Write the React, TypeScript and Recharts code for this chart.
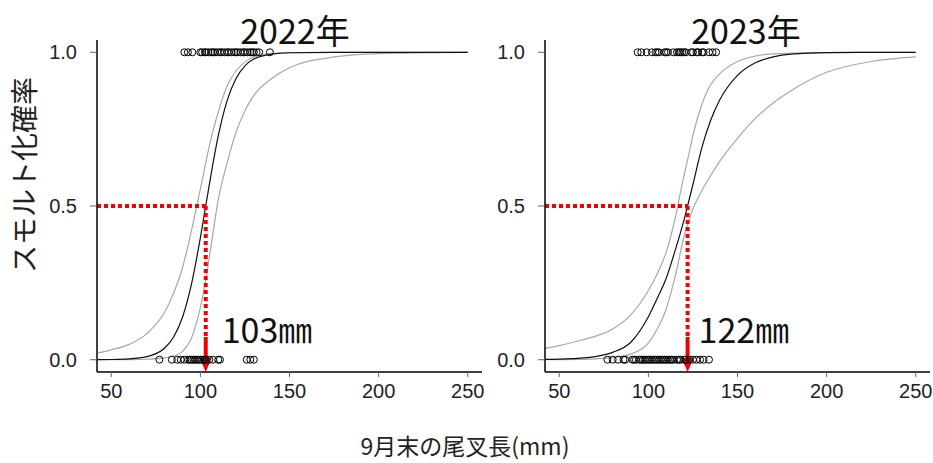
import React from "react";
import { ComposedChart, Line, Scatter, XAxis, YAxis, ReferenceLine } from "recharts";

// fitted smolt probability by fork length (logistic fit with 95% band)
const length2022 = [42, 50, 60, 70, 80, 85, 90, 95, 100, 103, 106, 110, 115, 120, 125, 130, 140, 150, 175, 200, 250];
const fit2022 = [0.0002, 0.0006, 0.0024, 0.0098, 0.038, 0.074, 0.139, 0.246, 0.397, 0.5, 0.603, 0.727, 0.843, 0.915, 0.956, 0.978, 0.994, 0.9986, 1, 1, 1];
const upper2022 = [0.021, 0.032, 0.05, 0.085, 0.155, 0.217, 0.3, 0.42, 0.555, 0.64, 0.72, 0.805, 0.89, 0.94, 0.968, 0.985, 0.996, 0.999, 1, 1, 1];
const lower2022 = [0, 0.0001, 0.0004, 0.0015, 0.006, 0.012, 0.027, 0.07, 0.17, 0.26, 0.37, 0.52, 0.64, 0.74, 0.81, 0.86, 0.915, 0.95, 0.985, 0.996, 1];
const smolt2022 = [91, 93, 95.5, 100, 101, 102.5, 103, 104.5, 106, 107, 108, 109.5, 111, 112, 113.5, 115, 116, 117.5, 119, 120, 121, 122.5, 124, 125, 126.5, 128, 129, 130, 131.5, 133, 139];
const parr2022 = [77, 84, 87, 89, 91, 93, 94, 95, 96, 97, 98, 99, 100, 101, 102, 103, 105, 107, 110, 111, 126, 128, 130];
const threshold2022 = 103;

const length2023 = [42, 50, 60, 70, 80, 90, 100, 105, 110, 115, 120, 122, 125, 130, 135, 140, 150, 160, 170, 180, 200, 225, 250];
const fit2023 = [0.0009, 0.0018, 0.0042, 0.0102, 0.024, 0.056, 0.14, 0.2, 0.265, 0.355, 0.455, 0.5, 0.57, 0.69, 0.78, 0.845, 0.925, 0.966, 0.985, 0.994, 0.999, 1, 1];
const upper2023 = [0.037, 0.046, 0.06, 0.076, 0.1, 0.145, 0.225, 0.28, 0.35, 0.46, 0.6, 0.65, 0.73, 0.83, 0.895, 0.93, 0.97, 0.988, 0.995, 0.997, 0.999, 1, 1];
const lower2023 = [0.0001, 0.0003, 0.001, 0.003, 0.007, 0.018, 0.055, 0.1, 0.165, 0.27, 0.4, 0.44, 0.49, 0.55, 0.6, 0.645, 0.72, 0.785, 0.835, 0.875, 0.935, 0.97, 0.985];
const smolt2023 = [94, 96, 99, 102, 104, 105, 106, 109, 110, 111, 114, 116, 117, 118, 119, 120, 121, 124, 125, 127, 128, 130, 131, 134, 136, 138];
const parr2023 = [77, 80, 83, 86, 87, 91, 92, 93, 95, 96, 97, 98, 99, 100, 101, 102, 103, 104, 105, 106, 107, 108, 109, 110, 111, 112, 113, 114, 116, 117, 118, 120, 121, 123, 125, 127, 129, 131, 134];
const threshold2023 = 122;

const xTicks = [50, 100, 150, 200, 250];
const yTicks = [0, 0.5, 1];

const RED = "#f00000";
const TICK_FONT = "'Liberation Sans', Arial, sans-serif";
const JP_FONT = "'Noto Sans CJK JP', sans-serif";
const TICK_SIZE = 20;

const toCurve = (xs: number[], fit: number[], upper: number[], lower: number[]) =>
  xs.map((x, i) => ({ x, fit: fit[i], upper: upper[i], lower: lower[i] }));

const toPoints = (ones: number[], zeros: number[]) => [
  ...ones.map((x) => ({ x, y: 1 })),
  ...zeros.map((x) => ({ x, y: 0 })),
];

const OpenCircle = (props: any) => (
  <circle cx={props.cx} cy={props.cy} r={3.5} fill="none" stroke="#000" strokeWidth={1} />
);

const XTick = (p: any) => (
  <text x={p.x} y={p.y} dy="0.8em" textAnchor="middle" fontFamily={TICK_FONT} fontSize={TICK_SIZE} fill="#222">
    {p.payload.value}
  </text>
);

const YTick = (p: any) => (
  <text x={p.x} y={p.y} dy="0.36em" textAnchor="end" fontFamily={TICK_FONT} fontSize={TICK_SIZE} fill="#222">
    {Number(p.payload.value).toFixed(1)}
  </text>
);

interface PanelProps {
  left: number;
  curve: { x: number; fit: number; upper: number; lower: number }[];
  points: { x: number; y: number }[];
  threshold: number;
  labelDx: number;
}

const Panel: React.FC<PanelProps> = ({ left, curve, points, threshold, labelDx }) => {
  // solid arrow at the bottom of the threshold line, with the length label beside it
  const arrow = (p: any) => {
    const { x1, y1, x2, y2 } = p;
    const head = 14;
    return (
      <g>
        <line x1={x1} y1={y1} x2={x2} y2={y2 - head + 1} stroke={RED} strokeWidth={4} />
        <polygon points={`${x2 - 6},${y2 - head} ${x2 + 6},${y2 - head} ${x2},${y2}`} fill={RED} />
        <text x={x1 + labelDx} y={y1 + 6} fontFamily={JP_FONT} fontSize={34} fill="#111">
          {threshold}
          <tspan>㎜</tspan>
        </text>
      </g>
    );
  };

  return (
    <div style={{ position: "absolute", left, top: 0 }}>
      <ComposedChart width={490} height={463} data={curve} margin={{ top: 40, right: 8, bottom: 0, left: 0 }}>
        <XAxis
          dataKey="x"
          type="number"
          domain={[42, 258]}
          ticks={xTicks}
          allowDataOverflow
          height={91}
          axisLine={{ stroke: "#000", strokeWidth: 1.5 }}
          tickLine={{ stroke: "#666" }}
          tickSize={5}
          tickMargin={5}
          tick={XTick}
        />
        <YAxis
          type="number"
          domain={[-0.04, 1.04]}
          ticks={yTicks}
          allowDataOverflow
          width={97}
          axisLine={{ stroke: "#000", strokeWidth: 1.5 }}
          tickLine={{ stroke: "#666" }}
          tickSize={7}
          tickMargin={13}
          tick={YTick}
        />
        <Line dataKey="upper" type="monotone" stroke="#a8a8a8" strokeWidth={1.2} dot={false} isAnimationActive={false} />
        <Line dataKey="lower" type="monotone" stroke="#a8a8a8" strokeWidth={1.2} dot={false} isAnimationActive={false} />
        <Line dataKey="fit" type="monotone" stroke="#111" strokeWidth={1.2} dot={false} isAnimationActive={false} />
        <Scatter data={points} dataKey="y" shape={OpenCircle} isAnimationActive={false} />
        <ReferenceLine
          segment={[{ x: 42, y: 0.5 }, { x: threshold, y: 0.5 }]}
          stroke={RED}
          strokeWidth={4}
          strokeDasharray="4 3"
          ifOverflow="visible"
        />
        <ReferenceLine
          segment={[{ x: threshold, y: 0.5 }, { x: threshold, y: 0.074 }]}
          stroke={RED}
          strokeWidth={4}
          strokeDasharray="4 3"
          ifOverflow="visible"
        />
        <ReferenceLine
          segment={[{ x: threshold, y: 0.074 }, { x: threshold, y: -0.04 }]}
          ifOverflow="visible"
          shape={arrow}
        />
      </ComposedChart>
    </div>
  );
};

export default function App() {
  return (
    <div style={{ position: "absolute", left: 0, top: 0, width: 933, height: 463, background: "#fff", overflow: "hidden" }}>
      <Panel left={0} curve={toCurve(length2022, fit2022, upper2022, lower2022)} points={toPoints(smolt2022, parr2022)} threshold={threshold2022} labelDx={16} />
      <Panel left={448} curve={toCurve(length2023, fit2023, upper2023, lower2023)} points={toPoints(smolt2023, parr2023)} threshold={threshold2023} labelDx={11} />
      <svg width={933} height={463} style={{ position: "absolute", left: 0, top: 0, pointerEvents: "none" }}>
        <text x={295} y={44} textAnchor="middle" fontFamily={JP_FONT} fontSize={34} fill="#111">2022年</text>
        <text x={746} y={44} textAnchor="middle" fontFamily={JP_FONT} fontSize={34} fill="#111">2023年</text>
        <text x={35} y={175} transform="rotate(-90 35 175)" textAnchor="middle" fontFamily={JP_FONT} fontSize={28} fill="#222">
          スモルト化確率
        </text>
        <text x={465} y={455} textAnchor="middle" fontFamily={JP_FONT} fontSize={23} fill="#222">
          9月末の尾叉長(mm)
        </text>
      </svg>
    </div>
  );
}
